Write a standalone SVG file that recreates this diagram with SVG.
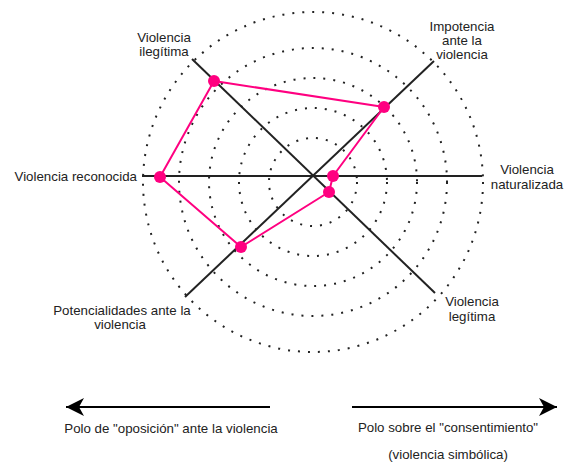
<svg xmlns="http://www.w3.org/2000/svg" width="565" height="463" viewBox="0 0 565 463">
<defs>
<style>
.ring{fill:none;stroke:#222;stroke-width:2;stroke-dasharray:2 8}
.axis{stroke:#222;stroke-width:2;fill:none}
.data{fill:none;stroke:#FF0080;stroke-width:2;stroke-linejoin:round}
.pt{fill:#FF0080}
.arrow{stroke:#000;stroke-width:2;fill:none}
text{font-family:"Liberation Sans",Arial,sans-serif;font-size:13.3px;fill:#222}
.c{text-anchor:middle}
.e{text-anchor:end}
</style>
<marker id="ah" viewBox="0 0 20 20" refX="18" refY="10" markerWidth="20" markerHeight="20" markerUnits="userSpaceOnUse" orient="auto">
<path d="M18,10 L0,1 L5,10 L0,19 Z" fill="#000"/>
</marker>
</defs>
<rect width="565" height="463" fill="#fff"/>
<g id="rings">
<circle class="ring" cx="313" cy="182" r="170"/>
<circle class="ring" cx="313" cy="182" r="134"/>
<circle class="ring" cx="313" cy="182" r="104"/>
<circle class="ring" cx="313" cy="182" r="74"/>
<circle class="ring" cx="313" cy="182" r="44"/>
</g>
<g id="axes">
<line class="axis" x1="142" y1="176" x2="482" y2="176"/>
<line class="axis" x1="192" y1="59" x2="435" y2="293"/>
<line class="axis" x1="434" y1="61" x2="185" y2="297"/>
</g>
<g id="connectors">
<polygon class="data" points="160,177 214,81 384,107 333,176 329,192 241,247"/>
<line class="arrow" x1="270" y1="407" x2="66" y2="407" marker-end="url(#ah)"/>
<line class="arrow" x1="352" y1="407" x2="557" y2="407" marker-end="url(#ah)"/>
</g>
<g id="point-reconocida"><circle class="pt" cx="160" cy="177" r="6"/></g>
<g id="point-ilegitima"><circle class="pt" cx="214" cy="81" r="6"/></g>
<g id="point-impotencia"><circle class="pt" cx="384" cy="107" r="6"/></g>
<g id="point-naturalizada"><circle class="pt" cx="333" cy="176" r="6"/></g>
<g id="point-legitima"><circle class="pt" cx="329" cy="192" r="6"/></g>
<g id="point-potencialidades"><circle class="pt" cx="241" cy="247" r="6"/></g>
<g id="label-ilegitima"><text class="c" x="164" y="42">Violencia</text><text class="c" x="164" y="56">ilegítima</text></g>
<g id="label-impotencia"><text class="c" x="462" y="31">Impotencia</text><text class="c" x="462" y="45">ante la</text><text class="c" x="462" y="59">violencia</text></g>
<g id="label-reconocida"><text class="e" x="137" y="181">Violencia reconocida</text></g>
<g id="label-naturalizada"><text class="c" x="527" y="174">Violencia</text><text class="c" x="527" y="189">naturalizada</text></g>
<g id="label-legitima"><text class="c" x="472" y="306">Violencia</text><text class="c" x="472" y="321">legítima</text></g>
<g id="label-potencialidades"><text class="c" x="122" y="315">Potencialidades ante la</text><text class="c" x="120" y="329">violencia</text></g>
<g id="label-oposicion"><text class="c" x="171" y="433">Polo de "oposición" ante la violencia</text></g>
<g id="label-consentimiento"><text class="c" x="448" y="432">Polo sobre el "consentimiento"</text><text class="c" x="448" y="459">(violencia simbólica)</text></g>
</svg>
